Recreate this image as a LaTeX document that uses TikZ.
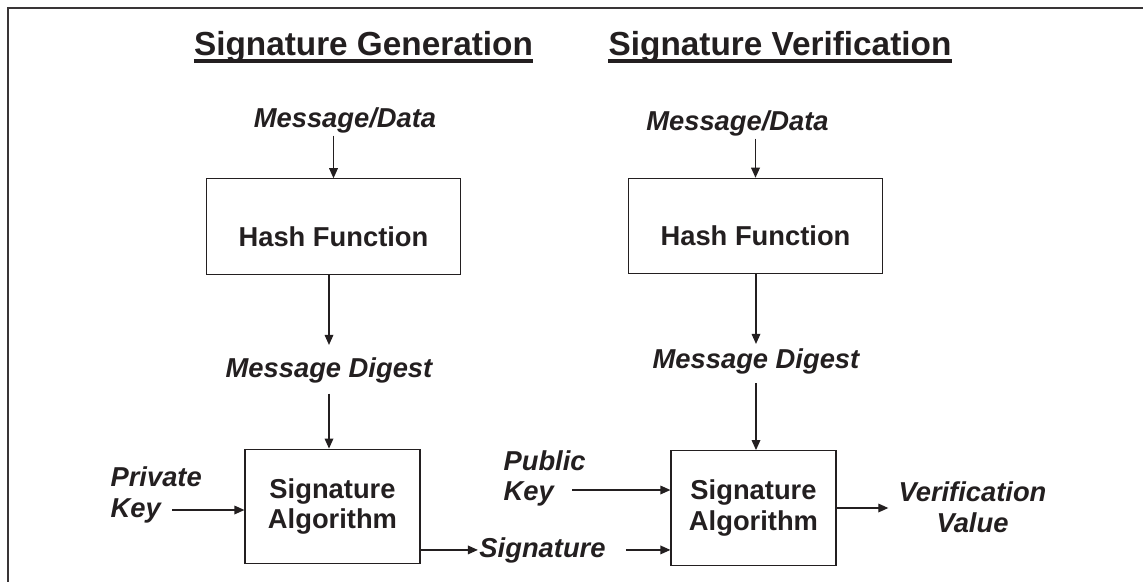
\documentclass[tikz,border=0pt]{standalone}
\usepackage{fontspec}
\setmainfont{Liberation Sans}
\usetikzlibrary{arrows.meta}
\definecolor{ink}{RGB}{35,31,32}

\begin{document}
\begin{tikzpicture}[
      x=0.75pt, y=-0.75pt,
      heading/.style={inner sep=0, anchor=base, text=ink, font=\fontsize{25}{30}\selectfont\bfseries},
      tag/.style={inner xsep=1pt, inner ysep=2pt, text=ink, font=\fontsize{20.5}{23}\selectfont\bfseries\itshape},
      hashbox/.style={draw=ink, line width=0.9pt, inner sep=0, minimum width=190.5pt, text height=50.5pt, text depth=21pt, text=ink, font=\fontsize{20.5}{23}\selectfont\bfseries},
      algbox/.style={draw=ink, line width=0.9pt, align=center, minimum height=86pt, text=ink, font=\fontsize{20.5}{23}\selectfont\bfseries},
      arr/.style={-{Triangle[length=7.5pt,width=6.5pt]}, line width=0.9pt, draw=ink},
      uline/.style={line width=3pt, draw=ink}
    ]
      \useasboundingbox (0,0) rectangle (1143,582);

      % Frame
      \draw[ink!90, line width=1.4pt] (8,582) -- (8,8) -- (1143,8);

      % Titles
      \node[heading] (genT) at (363.5,55) {Signature Generation};
      \node[heading] (verT) at (780,55) {Signature Verification};
      \draw[uline] ([yshift=-4.5pt]genT.base west) -- ([yshift=-4.5pt]genT.base east);
      \draw[uline] ([yshift=-4.5pt]verT.base west) -- ([yshift=-4.5pt]verT.base east);

      % Generation side
      \node[tag, anchor=base] (msgG) at (345,127) {Message/Data};
      \node[hashbox] (hashG) at (333.5,226.5) {Hash Function};
      \node[tag, anchor=base] (digG) at (329,377) {Message Digest};
      \node[algbox, minimum width=131.25pt] (sigG) at (332.5,506.5) {Signature\\Algorithm};
      \node[tag, align=left, anchor=west] (keyG) at (109,495) {Private\\Key};
      \node[tag, anchor=base] (sigL) at (542.5,557) {Signature};

      % Verification side
      \node[tag, anchor=base] (msgV) at (737.5,130) {Message/Data};
      \node[hashbox] (hashV) at (755.5,226) {Hash Function};
      \node[tag, anchor=base] (digV) at (756,368) {Message Digest};
      \node[algbox, minimum width=123.75pt] (sigV) at (753.5,508) {Signature\\Algorithm};
      \node[tag, align=left, anchor=west] (keyV) at (502,478.5) {Public\\Key};
      \node[tag, align=center] (verL) at (972.5,507.5) {Verification\\Value};

      % Arrow tails
      \coordinate (keyGtail) at (172,510);
      \coordinate (keyVtail) at (572,490);

      % Arrows
      \draw[arr] (hashG.north |- msgG.south) -- (hashG.north);
      \draw[arr, shorten >=7pt] (hashG.south -| digG.north) -- (digG.north);
      \draw[arr, shorten <=6pt] (digG.south) -- (digG.south |- sigG.north);
      \draw[arr] (keyGtail) -- (keyGtail -| sigG.west);
      \draw[arr] (sigG.east |- sigL.west) -- (sigL.west);

      \draw[arr] (hashV.north |- msgV.south) -- (hashV.north);
      \draw[arr, shorten >=1pt] (hashV.south -| digV.north) -- (digV.north);
      \draw[arr, shorten <=5pt] (digV.south) -- (digV.south |- sigV.north);
      \draw[arr] (keyVtail) -- (keyVtail -| sigV.west);
      \draw[arr, shorten <=14pt] (sigL.east) -- (sigL.east -| sigV.west);
      \draw[arr, shorten >=6.5pt] (sigV.east) -- (sigV.east -| verL.west);
    \end{tikzpicture}
\end{document}
